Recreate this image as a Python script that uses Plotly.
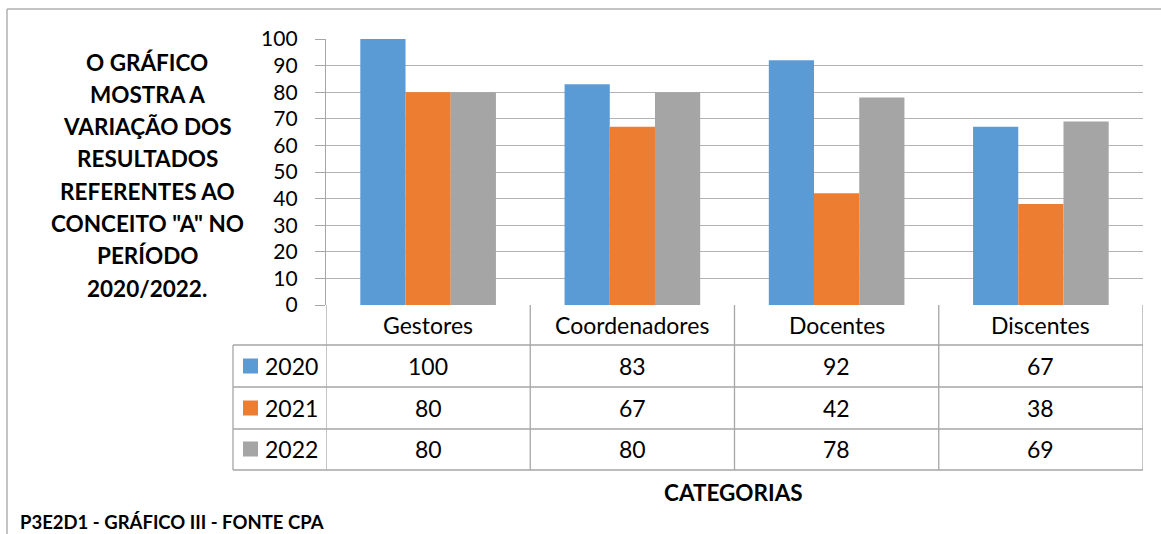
import plotly.graph_objects as go

categories = ["Gestores", "Coordenadores", "Docentes", "Discentes"]
series_names = ["2020", "2021", "2022"]
values_2020 = [100, 83, 92, 67]
values_2021 = [80, 67, 42, 38]
values_2022 = [80, 80, 78, 69]
y_ticks = [0, 10, 20, 30, 40, 50, 60, 70, 80, 90, 100]
title_lines = ["O GRÁFICO", "MOSTRA A", "VARIAÇÃO DOS", "RESULTADOS",
               "REFERENTES AO", "CONCEITO \"A\" NO", "PERÍODO", "2020/2022."]
axis_title = "CATEGORIAS"
footer = "P3E2D1 - GRÁFICO III - FONTE CPA"

colors = ["#5b9bd5", "#ed7d31", "#a5a5a5"]
series_values = [values_2020, values_2021, values_2022]

W, H = 1161, 534
FONT = "Lato"
LINE = "#a6a6a6"

def px(x):
    return x / W

def py(y):
    return 1 - y / H

fig = go.Figure()
for name, vals, col in zip(series_names, series_values, colors):
    fig.add_trace(go.Bar(x=list(range(len(categories))), y=vals, name=name,
                         marker=dict(color=col, line=dict(width=0)),
                         showlegend=False, hoverinfo="y"))

shapes = []
annotations = []

# outer chart border (top + left)
shapes.append(dict(type="line", xref="paper", yref="paper", x0=px(7), x1=1.0,
                   y0=py(9), y1=py(9), line=dict(color="#b0b0b0", width=1.5)))
shapes.append(dict(type="line", xref="paper", yref="paper", x0=px(7), x1=px(7),
                   y0=py(9), y1=0.0, line=dict(color="#b0b0b0", width=1.5)))

# table rows (pixel y)
row_lines = [345, 387, 429, 470]
row_centers = [366, 408, 449]
header_center = 325
n = len(categories)

for yl in row_lines:
    shapes.append(dict(type="line", xref="paper", yref="paper", x0=px(233), x1=px(1143),
                       y0=py(yl), y1=py(yl), line=dict(color=LINE, width=1.3)))
shapes.append(dict(type="line", xref="paper", yref="paper", x0=px(233), x1=px(233),
                   y0=py(345), y1=py(470), line=dict(color=LINE, width=1.3)))
for k in range(n + 1):
    shapes.append(dict(type="line", xref="x", yref="paper", x0=k - 0.5, x1=k - 0.5,
                       y0=py(305), y1=py(470), line=dict(color=LINE, width=1.3)))

TFS = 23
for k, c in enumerate(categories):
    annotations.append(dict(x=k, y=py(header_center), xref="x", yref="paper", text=c,
                            showarrow=False, font=dict(family=FONT, size=TFS, color="#000"),
                            xanchor="center", yanchor="middle"))

for r, (name, vals, col) in enumerate(zip(series_names, series_values, colors)):
    yc = py(row_centers[r])
    shapes.append(dict(type="rect", xref="paper", yref="paper", x0=px(243), x1=px(258),
                       y0=yc - 7.5 / H, y1=yc + 7.5 / H, fillcolor=col, line=dict(width=0)))
    annotations.append(dict(x=px(263), y=yc, xref="paper", yref="paper", text=name,
                            showarrow=False, font=dict(family=FONT, size=TFS, color="#000"),
                            xanchor="left", yanchor="middle"))
    for k, v in enumerate(vals):
        annotations.append(dict(x=k, y=yc, xref="x", yref="paper", text=str(v),
                                showarrow=False, font=dict(family=FONT, size=TFS, color="#000"),
                                xanchor="center", yanchor="middle"))

for i, t in enumerate(title_lines):
    annotations.append(dict(x=px(147), y=py(62 + i * 32.3), xref="paper", yref="paper",
                            text="<b>" + t + "</b>", showarrow=False,
                            font=dict(family=FONT, size=22.5, color="#000"),
                            xanchor="center", yanchor="middle"))

annotations.append(dict(x=px(733), y=py(492), xref="paper", yref="paper",
                        text="<b>" + axis_title + "</b>", showarrow=False,
                        font=dict(family=FONT, size=22.5, color="#000"),
                        xanchor="center", yanchor="middle"))
annotations.append(dict(x=px(18), y=py(522), xref="paper", yref="paper",
                        text="<b>" + footer + "</b>", showarrow=False,
                        font=dict(family=FONT, size=18.5, color="#000"),
                        xanchor="left", yanchor="middle"))

fig.update_layout(
    width=W, height=H, margin=dict(l=0, r=0, t=0, b=0, pad=0, autoexpand=False),
    paper_bgcolor="white", plot_bgcolor="white",
    barmode="group", bargap=0.336, bargroupgap=0,
    shapes=shapes, annotations=annotations,
    xaxis=dict(domain=[px(326), px(1143)], range=[-0.5, n - 0.5], showticklabels=False,
               showgrid=False, zeroline=False, showline=False, ticks="", automargin=False),
    yaxis=dict(domain=[py(305), py(39)], range=[0, 100], tickvals=y_ticks,
               showgrid=True, gridcolor="#b3b3b3", gridwidth=1.2, zeroline=False,
               showline=True, linecolor=LINE, linewidth=1.3, automargin=False,
               ticks="outside", ticklen=10, tickcolor=LINE, tickwidth=1.3,
               tickfont=dict(family=FONT, size=21, color="#000"), ticklabelstandoff=13),
)

fig.write_html("out.html", config={"displayModeBar": False},
               post_script="document.body.style.margin='0';")
